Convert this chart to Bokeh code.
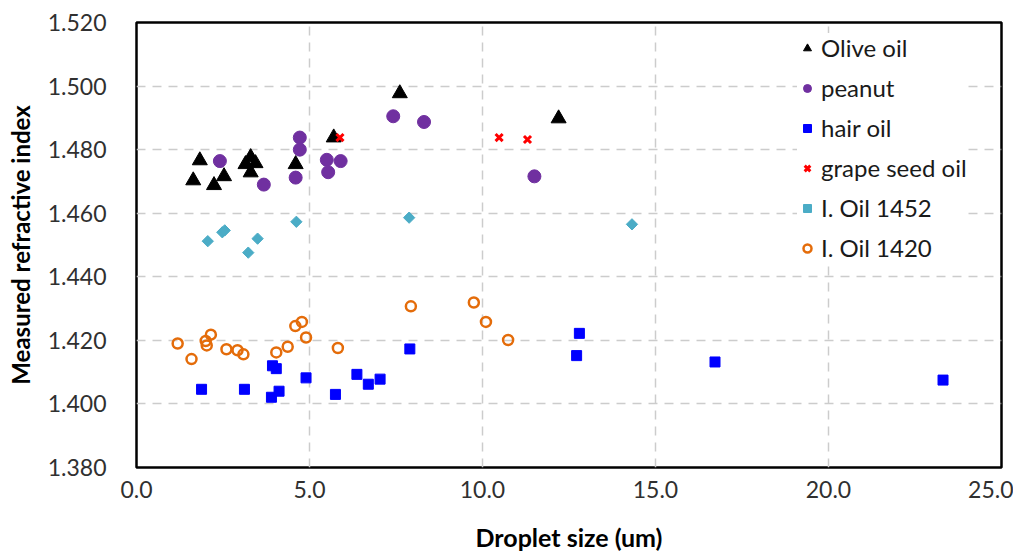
from bokeh.plotting import figure
from bokeh.models import FixedTicker, NumeralTickFormatter, Legend, LegendItem
from bokeh.embed import file_html
from bokeh.resources import INLINE

olive_x = [1.64, 1.83, 2.24, 2.53, 3.15, 3.30, 3.44, 3.30, 4.60, 5.70, 7.61, 12.20]
olive_y = [1.4703, 1.4766, 1.4688, 1.4716, 1.4754, 1.4776, 1.4757, 1.4728, 1.4754, 1.4838, 1.4977, 1.4898]

peanut_x = [2.41, 3.68, 4.60, 4.72, 4.72, 5.50, 5.54, 5.90, 7.42, 8.31, 11.50]
peanut_y = [1.4764, 1.4690, 1.4712, 1.4838, 1.4800, 1.4768, 1.4729, 1.4764, 1.4905, 1.4887, 1.4716]

hair_x = [1.88, 3.12, 3.93, 4.04, 3.90, 4.12, 4.90, 5.75, 6.37, 6.70, 7.04, 7.90, 12.80, 12.72, 16.72, 23.31]
hair_y = [1.4046, 1.4046, 1.4120, 1.4111, 1.4021, 1.4040, 1.4082, 1.4030, 1.4093, 1.4062, 1.4078, 1.4173, 1.4222, 1.4152, 1.4132, 1.4075]

grape_x = [5.88, 10.48, 11.30]
grape_y = [1.4838, 1.4838, 1.4832]

oil1452_x = [2.06, 2.48, 2.55, 3.23, 3.50, 4.62, 7.88, 14.32]
oil1452_y = [1.4512, 1.4540, 1.4546, 1.4476, 1.4520, 1.4573, 1.4586, 1.4565]

oil1420_x = [1.19, 1.59, 2.00, 2.03, 2.15, 2.60, 2.92, 3.09, 4.04, 4.37, 4.59, 4.78, 4.90, 5.82, 7.93, 9.75, 10.10, 10.74]
oil1420_y = [1.4190, 1.4141, 1.4198, 1.4184, 1.4218, 1.4172, 1.4169, 1.4156, 1.4162, 1.4180, 1.4245, 1.4258, 1.4209, 1.4176, 1.4307, 1.4319, 1.4258, 1.4201]

x_ticks = [0, 5, 10, 15, 20, 25]
y_ticks = [1.38, 1.40, 1.42, 1.44, 1.46, 1.48, 1.50, 1.52]

FONT = "Lato"

p = figure(width=1013, height=557, x_range=(0, 25), y_range=(1.38, 1.52),
           output_backend="svg", toolbar_location=None,
           min_border_left=136, min_border_right=12, min_border_top=22, min_border_bottom=90)

p.outline_line_color = "black"
p.outline_line_width = 2.5

for ax in (p.xaxis[0], p.yaxis[0]):
    ax.axis_line_color = None
    ax.major_tick_line_color = None
    ax.minor_tick_line_color = None
    ax.major_label_text_font = FONT
    ax.major_label_text_font_size = "23px"
    ax.major_label_text_color = "#303030"
    ax.axis_label_text_font = FONT
    ax.axis_label_text_font_style = "bold"
    ax.axis_label_text_color = "black"

p.xaxis.axis_label_text_font_size = "25px"
p.yaxis.axis_label_text_font_size = "24px"
p.xaxis.ticker = FixedTicker(ticks=x_ticks)
p.yaxis.ticker = FixedTicker(ticks=y_ticks)
p.xaxis.formatter = NumeralTickFormatter(format="0.0")
p.yaxis.formatter = NumeralTickFormatter(format="0.000")
p.xaxis.axis_label = "Droplet size (um)"
p.yaxis.axis_label = "Measured refractive index"
p.xaxis.major_label_standoff = 7
p.yaxis.major_label_standoff = 24
p.xaxis.axis_label_standoff = 21
p.yaxis.axis_label_standoff = 10

for g in (p.xgrid[0], p.ygrid[0]):
    g.grid_line_color = "#cccccc"
    g.grid_line_width = 1.5
    g.grid_line_dash = "9 7"

r1 = p.scatter(olive_x, olive_y, marker="triangle", size=15, color="black")
r2 = p.scatter(peanut_x, peanut_y, marker="circle", size=13, color="#7030A0")
r3 = p.scatter(hair_x, hair_y, marker="square", size=10, color="#0000FF")
r4 = p.scatter(grape_x, grape_y, marker="x", size=10, line_color="#FF0000", line_width=3)
r5 = p.scatter(oil1452_x, oil1452_y, marker="square", size=8, angle=0.785398, color="#4BACC6")
r6 = p.scatter(oil1420_x, oil1420_y, marker="circle", size=10, fill_color=None,
               line_color="#E46C0A", line_width=2.5)

legend = Legend(items=[
    LegendItem(label="Olive oil", renderers=[r1]),
    LegendItem(label="peanut", renderers=[r2]),
    LegendItem(label="hair oil", renderers=[r3]),
    LegendItem(label="grape seed oil", renderers=[r4]),
    LegendItem(label="I. Oil 1452", renderers=[r5]),
    LegendItem(label="I. Oil 1420", renderers=[r6]),
], location=(661, 205))
legend.label_text_font = FONT
legend.label_text_font_size = "24px"
legend.label_text_color = "#1a1a1a"
legend.glyph_width = 20
legend.glyph_height = 28
legend.label_height = 28
legend.spacing = 11
legend.padding = 4
legend.label_standoff = 4
legend.border_line_color = None
legend.background_fill_color = "white"
legend.background_fill_alpha = 1.0
p.add_layout(legend)

open("out.html", "w").write(file_html(p, INLINE))
